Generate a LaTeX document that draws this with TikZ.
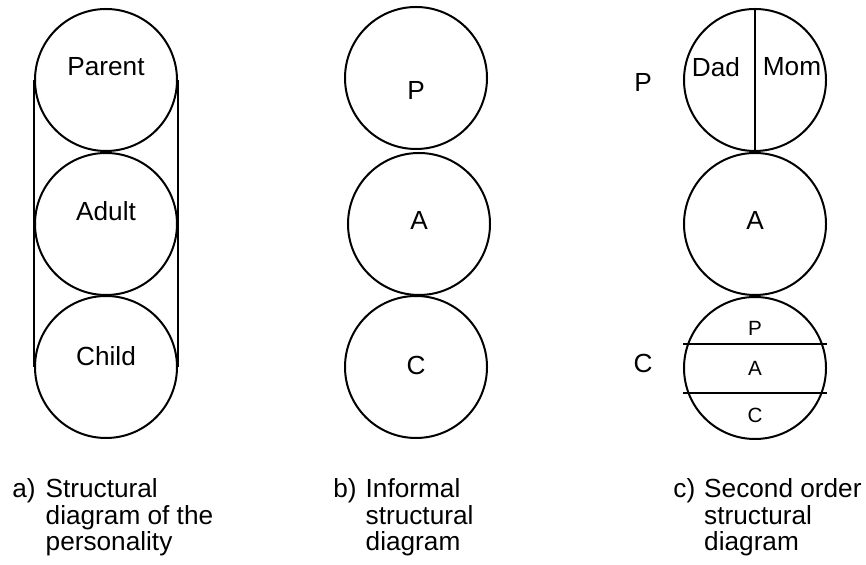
\documentclass[tikz,border=0pt]{standalone}
\usepackage{fontspec}
\setmainfont{Liberation Sans}
\begin{document}
\begin{tikzpicture}[x=0.5pt,y=-0.5pt]
	\tikzset{ring/.style={draw, circle, line width=1pt, minimum size=71pt, inner sep=0pt}}
	\tikzset{txt/.style={font=\fontsize{13.1}{12.5}\selectfont, inner sep=0pt}}
	\tikzset{small/.style={font=\fontsize{10.3}{12}\selectfont, inner sep=0pt}}
	\tikzset{caption/.style={txt, anchor=base west}}
	\tikzset{divider/.style={line width=1pt}}

	\useasboundingbox (0,0) rectangle (866,565);

	% a) structural diagram
	\node (pa) [ring] at (106,80) {};
	\node (aa) [ring] at (106,224) {};
	\node (ca) [ring] at (106,367) {};
	\draw[divider] (pa.west) -- (ca.west);
	\draw[divider] (pa.east) -- (ca.east);
	\node (pat) [txt] at ([yshift=6.5pt]pa.center) {Parent};
	\node (aat) [txt] at ([yshift=6.5pt]aa.center) {Adult};
	\node (cat) [txt] at ([yshift=5.5pt]ca.center) {Child};
	\node (capa) [caption] at (12,498) {\begin{tabular}[t]{@{}l@{\hspace{5pt}}l@{}}a) & Structural\\ & diagram of the\\ & personality\end{tabular}};

	% b) informal
	\node (pb) [ring] at (416,78) {};
	\node (ab) [ring] at (419,224) {};
	\node (cb) [ring] at (416,367) {};
	\node (pbt) [txt] at ([yshift=-6pt]pb.center) {P};
	\node (abt) [txt] at ([yshift=2pt]ab.center) {A};
	\node (cbt) [txt] at ([yshift=1pt]cb.center) {C};
	\node (capb) [caption] at (333,498) {\begin{tabular}[t]{@{}l@{\hspace{4.5pt}}l@{}}b) & Informal\\ & structural\\ & diagram\end{tabular}};

	% c) second order
	\node (pc) [ring] at (755,80) {};
	\node (ac) [ring] at (755,224) {};
	\node (cc) [ring] at (755,368) {};
	\draw[divider] (pc.north) -- (pc.south);
	\draw[divider] ([yshift=12pt]cc.west) -- ([yshift=12pt]cc.east);
	\draw[divider] ([yshift=-12.5pt]cc.west) -- ([yshift=-12.5pt]cc.east);
	\node (dad) [txt] at (716,67) {Dad};
	\node (mom) [txt] at (792,67) {Mom};
	\node (act) [txt] at ([yshift=2pt]ac.center) {A};
	\node (cp) [small] at (755,328) {P};
	\node (ca2) [small] at (755,368) {A};
	\node (cc2) [small] at (755,415) {C};
	\node (pcl) [txt] at (643,82) {P};
	\node (ccl) [txt] at (643,363) {C};
	\node (capc) [caption] at (673,498) {\begin{tabular}[t]{@{}l@{\hspace{4.5pt}}l@{}}c) & Second order\\ & structural\\ & diagram\end{tabular}};
\end{tikzpicture}
\end{document}
